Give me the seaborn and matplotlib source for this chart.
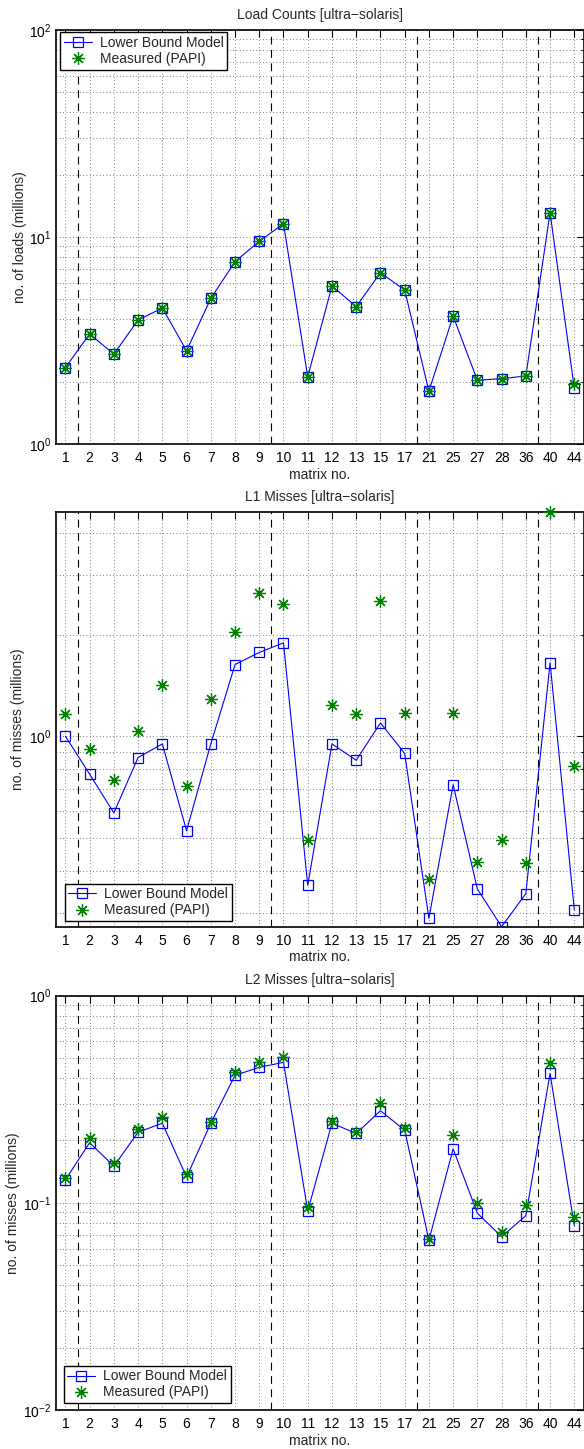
import numpy as np
import matplotlib
matplotlib.use("Agg")
import matplotlib.pyplot as plt
import seaborn as sns
from matplotlib.ticker import LogLocator, LogFormatterMathtext, NullFormatter, FixedLocator, FixedFormatter

# ---------------- data ----------------
matrices = ['1', '2', '3', '4', '5', '6', '7', '8', '9', '10', '11',
            '12', '13', '15', '17', '21', '25', '27', '28', '36', '40', '44']

load_model = [2.34, 3.40, 2.72, 3.97, 4.54, 2.82, 5.05, 7.60, 9.53, 11.6, 2.11,
              5.80, 4.61, 6.72, 5.55, 1.80, 4.15, 2.03, 2.07, 2.13, 13.1, 1.86]
load_papi = [2.34, 3.40, 2.72, 3.97, 4.54, 2.82, 5.05, 7.60, 9.53, 11.6, 2.11,
             5.80, 4.61, 6.72, 5.55, 1.80, 4.15, 2.03, 2.07, 2.13, 13.1, 1.96]

l1_model = [1.00, 0.772, 0.593, 0.865, 0.949, 0.525, 0.949, 1.63, 1.77, 1.89, 0.362,
            0.949, 0.849, 1.095, 0.889, 0.289, 0.719, 0.353, 0.273, 0.342, 1.65, 0.306]
l1_papi = [1.16, 0.915, 0.744, 1.035, 1.415, 0.711, 1.29, 2.04, 2.65, 2.46, 0.492,
           1.24, 1.167, 2.51, 1.17, 0.379, 1.17, 0.425, 0.492, 0.420, 4.61, 0.817]

l2_model = [0.129, 0.195, 0.150, 0.219, 0.242, 0.133, 0.242, 0.412, 0.450, 0.476, 0.0912,
            0.242, 0.216, 0.278, 0.224, 0.066, 0.182, 0.089, 0.0686, 0.0866, 0.421, 0.0773]
l2_papi = [0.132, 0.205, 0.155, 0.226, 0.260, 0.137, 0.246, 0.426, 0.476, 0.507, 0.0957,
           0.248, 0.220, 0.302, 0.229, 0.0668, 0.212, 0.100, 0.072, 0.0975, 0.471, 0.085]

group_ends = ['1', '9', '17', '36']   # dashed separators after these matrices

titles = ['Load Counts [ultra\u2212solaris]', 'L1 Misses [ultra\u2212solaris]',
          'L2 Misses [ultra\u2212solaris]']
ylabels = ['no. of loads (millions)', 'no. of misses (millions)', 'no. of misses (millions)']
xlabel = 'matrix no.'
legend_labels = ['Lower Bound Model', 'Measured (PAPI)']

# ---------------- style ----------------
sns.set_theme(style='white')
plt.rcParams['font.family'] = ['Liberation Sans', 'DejaVu Sans']
plt.rcParams['mathtext.fontset'] = 'custom'
plt.rcParams['mathtext.rm'] = 'Liberation Sans'
plt.rcParams['mathtext.it'] = 'Liberation Sans:italic'
plt.rcParams['axes.unicode_minus'] = True
FS = 10

fig = plt.figure(figsize=(5.84, 14.49), dpi=100)
H = 1449.0
W = 584.0
LEFT = 55.7

def ax_rect(top_px, bot_px, left_px=LEFT, right_px=584.0):
    return [left_px / W, 1 - bot_px / H, (right_px - left_px) / W, (bot_px - top_px) / H]

rects = [ax_rect(30, 444), ax_rect(511.7, 926.7), ax_rect(995.5, 1410)]
ylims = [(1, 100), (0.273, 4.62), (0.01, 1)]
ylabel_x = [27, 25, 20]
legend_locs = [('upper left', (0.009, 0.994)), ('lower left', (0.017, 0.014)),
               ('lower left', (0.015, 0.017))]

models = [load_model, l1_model, l2_model]
papis = [load_papi, l1_papi, l2_papi]

x = np.arange(len(matrices))
blue = '#0000ff'
green = '#008000'

for i in range(3):
    ax = fig.add_axes(rects[i])
    ax.set_yscale('log')

    # grid
    ax.grid(True, which='major', axis='x', linestyle=(0, (1, 3)), color='#555555', linewidth=0.6)
    ax.grid(True, which='both', axis='y', linestyle=(0, (1, 3)), color='#555555', linewidth=0.6)

    # group separators
    for g in group_ends:
        ax.axvline(matrices.index(g) + 0.5, color='black', linestyle=(0, (7, 5)),
                   linewidth=0.8, zorder=1.5)

    sns.lineplot(x=x, y=models[i], ax=ax, color=blue, linewidth=0.8, marker='s',
                 markersize=7.5, markerfacecolor='none', markeredgecolor=blue,
                 markeredgewidth=0.9, sort=False, zorder=3)
    sns.lineplot(x=x, y=papis[i], ax=ax, color=green, linestyle='', marker=(8, 2, 0),
                 markersize=9, markeredgecolor=green, markeredgewidth=0.9,
                 sort=False, zorder=4, clip_on=False)

    ax.set_xlim(-0.4, 21.4)
    ax.set_ylim(*ylims[i])
    ax.xaxis.set_major_locator(FixedLocator(x))
    ax.xaxis.set_major_formatter(FixedFormatter(matrices))
    ax.yaxis.set_major_locator(LogLocator(base=10, numticks=10))
    ax.yaxis.set_minor_locator(LogLocator(base=10, subs=np.arange(2, 10), numticks=20))
    ax.yaxis.set_major_formatter(LogFormatterMathtext())
    ax.yaxis.set_minor_formatter(NullFormatter())

    ax.tick_params(which='both', direction='in', top=True, right=True, labelsize=FS,
                   colors='black', width=0.8)
    ax.tick_params(which='major', length=5)
    ax.tick_params(axis='x', which='major', pad=5)
    ax.tick_params(axis='y', which='major', pad=3)
    ax.tick_params(which='minor', length=2.5)
    for s in ax.spines.values():
        s.set_color('black')
        s.set_linewidth(1.2)

    ax.set_title(titles[i], fontsize=FS, pad=8)
    ax.set_xlabel(xlabel, fontsize=FS, labelpad=2)
    ax.set_ylabel(ylabels[i], fontsize=FS)
    ax.yaxis.set_label_coords((ylabel_x[i] - LEFT) / (W - LEFT), 0.5)

    lines = ax.get_lines()
    data_lines = [l for l in lines if l.get_marker() not in (None, 'None', '')]
    loc, anchor = legend_locs[i]
    leg = ax.legend(data_lines[:2], legend_labels, loc=loc, bbox_to_anchor=anchor,
                    fontsize=FS, frameon=True, fancybox=False, framealpha=1,
                    edgecolor='black', borderpad=0.25, labelspacing=0.15,
                    handlelength=2.0, handletextpad=0.6, borderaxespad=0.0)
    leg.get_frame().set_linewidth(1.0)
    leg.set_zorder(10)

fig.savefig('out.png', dpi=100)
